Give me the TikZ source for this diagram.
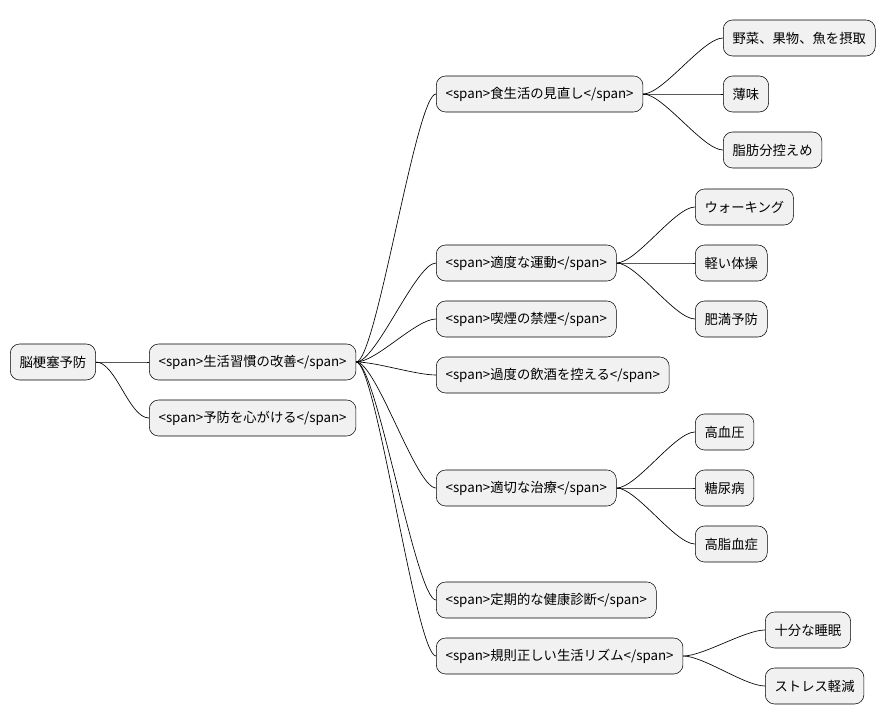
\documentclass[tikz,border=0pt]{standalone}
\usepackage{fontspec}
\setmainfont{Noto Sans CJK JP}
\usetikzlibrary{positioning}
\definecolor{boxfill}{HTML}{F1F1F1}
\tikzset{
  topic/.style={draw=black, fill=boxfill, rounded corners=7pt, anchor=west,
    minimum height=27pt, inner xsep=7pt, font=\fontsize{10}{12}\selectfont},
  branch/.style={draw=black, line width=0.5pt}
}
\begin{document}
\begin{tikzpicture}[x=0.75pt, y=-0.75pt]
  \useasboundingbox (0,0) rectangle (894,724);

  % root and first level
  \node[topic] (root) at (10,362) {脳梗塞予防};
  \node[topic] (habit) at (149,362) {<span>生活習慣の改善</span>};
  \node[topic] (care) at (149,418) {<span>予防を心がける</span>};

  % second level
  \node[topic] (diet) at (436,94) {<span>食生活の見直し</span>};
  \node[topic] (sport) at (436,263) {<span>適度な運動</span>};
  \node[topic] (smoke) at (436,319) {<span>喫煙の禁煙</span>};
  \node[topic] (drink) at (436,375) {<span>過度の飲酒を控える</span>};
  \node[topic] (cure) at (436,488) {<span>適切な治療</span>};
  \node[topic] (check) at (436,600) {<span>定期的な健康診断</span>};
  \node[topic] (rhythm) at (436,656) {<span>規則正しい生活リズム</span>};

  % third level
  \node[topic] (veg) at (723,38) {野菜、果物、魚を摂取};
  \node[topic] (salt) at (723,94) {薄味};
  \node[topic] (fat) at (723,150) {脂肪分控えめ};
  \node[topic] (walk) at (695,207) {ウォーキング};
  \node[topic] (gym) at (695,263) {軽い体操};
  \node[topic] (obese) at (695,319) {肥満予防};
  \node[topic] (bp) at (695,432) {高血圧};
  \node[topic] (dm) at (695,488) {糖尿病};
  \node[topic] (lipid) at (695,544) {高脂血症};
  \node[topic] (sleep) at (765,630) {十分な睡眠};
  \node[topic] (stress) at (765,686) {ストレス軽減};

  % connectors
  \foreach \a/\b in {root/habit, root/care,
      habit/diet, habit/sport, habit/smoke, habit/drink, habit/cure, habit/check, habit/rhythm,
      diet/veg, diet/salt, diet/fat, sport/walk, sport/gym, sport/obese,
      cure/bp, cure/dm, cure/lipid, rhythm/sleep, rhythm/stress}
    \draw[branch] (\a.east) .. controls ++(20,0) and ++(-20,0) .. (\b.west);
\end{tikzpicture}
\end{document}
